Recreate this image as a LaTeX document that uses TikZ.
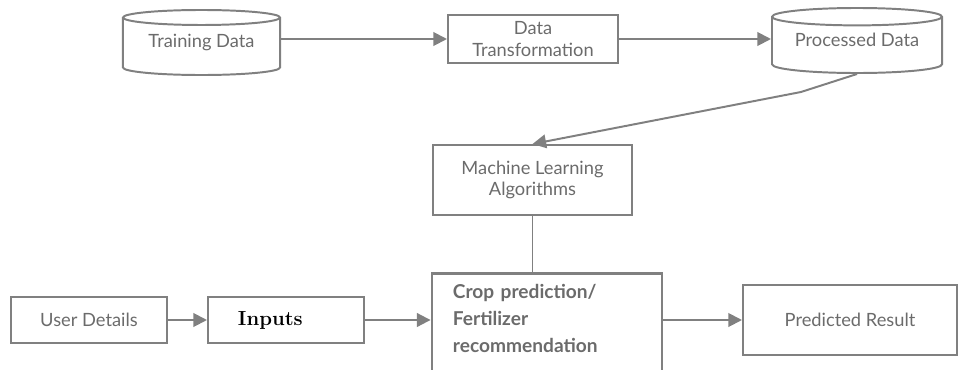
\documentclass[tikz,border=0pt]{standalone}
\usepackage{fontspec}
\setmainfont{Lato}
\newfontfamily\serifface{Latin Modern Roman}
\usepackage{tikz}
\usetikzlibrary{arrows.meta,positioning,shapes.geometric}

\definecolor{linegray}{HTML}{808080}
\definecolor{textgray}{HTML}{6B6B6B}

\begin{document}
\begin{tikzpicture}[
  x=0.025cm, y=-0.025cm,
  box/.style={
    draw=linegray,
    line width=1.4pt,
    align=center,
    text=textgray,
    font=\fontsize{13}{15.5}\selectfont
  },
  db/.style={
    box,
    cylinder,
    shape border rotate=90,
    aspect=0.13,
    inner ysep=0pt,
    text depth=0.36cm,
    anchor=shape center
  },
  arrow/.style={-{Triangle[length=3.4mm,width=3.4mm]}, line width=1.4pt, draw=linegray},
  link/.style={line width=1.4pt, draw=linegray}
]
  \useasboundingbox (0,0) rectangle (960,369);
  \clip (0,0) rectangle (960,369);

  % top row
  \node[db, minimum width=3.925cm, minimum height=1.625cm] (train) at (201.5,42.5) {Training Data};
  \node[box, minimum width=4.25cm, minimum height=1.2cm] (transform) at (533,39) {Data\\Transformation};
  \node[db, minimum width=4.25cm, minimum height=1.625cm] (processed) at (857,40.5) {Processed Data};

  % middle
  \node[box, minimum width=4.975cm, minimum height=1.75cm] (mla) at (532.5,180) {Machine Learning\\Algorithms};

  % bottom row
  \node[box, minimum width=3.9cm, minimum height=1.15cm] (user) at (89,320) {User Details};
  \node[box, minimum width=3.9cm, minimum height=1.15cm, text=black, align=left,
        text width=2.4cm, inner xsep=0.75cm,
        font=\serifface\bfseries\fontsize{14.5}{17}\selectfont] (inputs) at (286,320) {Inputs};
  \node[box, anchor=north, minimum width=5.75cm, line width=2pt, align=left,
        text width=4.7cm, inner xsep=0.525cm, inner ysep=8pt, text depth=2cm,
        font=\bfseries\fontsize{13.6}{19.2}\selectfont] (crop) at (547,272)
        {Crop prediction/\\Fertilizer\\recommendation};
  \node[box, minimum width=5.35cm, minimum height=1.75cm] (result) at (850,320) {Predicted Result};

  \draw[arrow] (train.east |- transform) -- (transform);
  \draw[arrow] (transform) -- (transform -| processed.west);
  \draw[arrow] (processed.south) -- ++(-56,18) -- (mla.north);
  \draw[link] (mla.south) -- (mla.south |- crop.north);
  \draw[arrow] (user) -- (inputs);
  \draw[arrow] (inputs) -- (inputs -| crop.west);
  \draw[arrow] (result -| crop.east) -- (result);
\end{tikzpicture}
\end{document}
